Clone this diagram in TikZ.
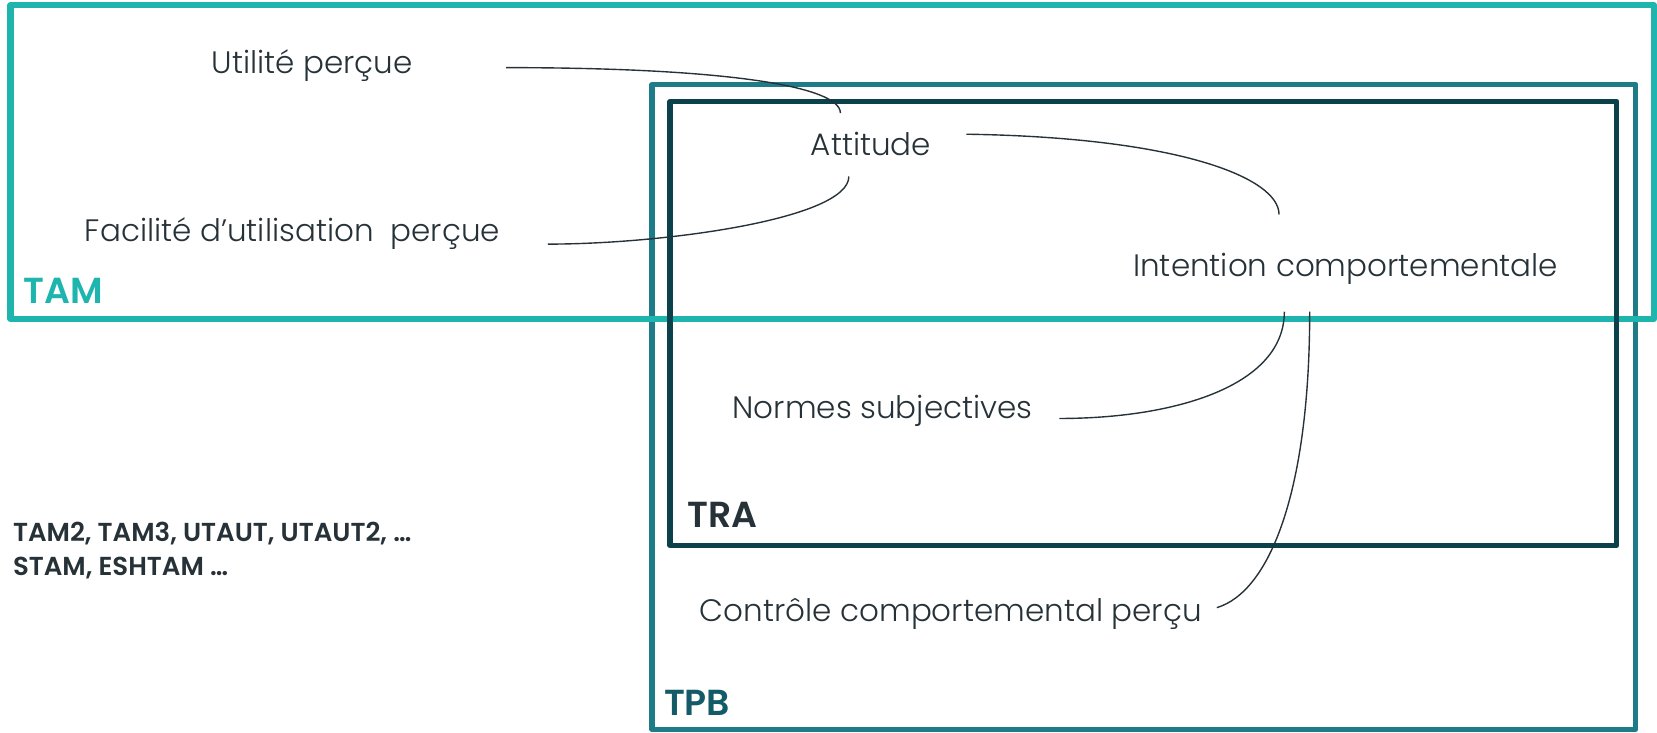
\documentclass[tikz,border=0pt]{standalone}
\usepackage{fontspec}
\usetikzlibrary{calc}
\IfFontExistsTF{Poppins Light}{\newfontfamily\txtfont{Poppins Light}}{\newfontfamily\txtfont{Poppins}}
\IfFontExistsTF{Poppins SemiBold}{\newfontfamily\tagfont{Poppins SemiBold}}{\newfontfamily\tagfont{Poppins}[AutoFakeBold=2]}
\definecolor{tam}{HTML}{1FB5AF}
\definecolor{tpb}{HTML}{1E7B88}
\definecolor{tpbtxt}{HTML}{135B68}
\definecolor{tra}{HTML}{0A414B}
\definecolor{ink}{HTML}{263238}
\tikzset{
  box/.style={line width=2.8pt, line join=round},
  lbl/.style={anchor=west, inner sep=0pt, text=ink, font=\txtfont\fontsize{16.7}{19}\selectfont},
  tag/.style={anchor=west, inner sep=0pt, font=\tagfont\fontsize{19.5}{22}\selectfont},
  link/.style={draw=ink, line width=0.75pt}
}
\begin{document}
\begin{tikzpicture}[x=0.02cm,y=-0.02cm]
\useasboundingbox (0,0) rectangle (1568,693);
% frames
\draw[box, draw=tpb] (617,80) rectangle (1548,690);
\draw[box, draw=tam, line width=3.4pt] (10,5) rectangle (1565,302);
\draw[box, draw=tra] (634,96) rectangle (1530,516);
% model names
\node[tag, text=tam] (tamlbl) at (22,275) {TAM};
\node[tag, text=ink] (tralbl) at (650,487) {TRA};
\node[tag, text=tpbtxt] (tpblbl) at (628,665) {TPB};
\node[tag, text=ink, align=left, font=\tagfont\fontsize{14}{18}\selectfont] (others) at (12,521) {TAM2, TAM3, UTAUT, UTAUT2, …\\STAM, ESHTAM …};
% constructs
\node[lbl] (up) at (200,62) {Utilité perçue};
\node[lbl] (att) at (767,136) {Attitude};
\node[lbl] (fac) at (80,221) {Facilité d’utilisation\ \ perçue};
\node[lbl] (int) at (1072,254) {Intention comportementale};
\node[lbl] (ns) at (693,389) {Normes subjectives};
\node[lbl] (cc) at (662,581) {Contrôle comportemental perçu};
% links
\draw[link] ($(up.east)+(88,2)$) .. controls +(210,0) and +(0,-25) .. ($(att.center)+(-29,-29)$);
\draw[link] ($(att.center)+(-21,31)$) .. controls +(0,40) and +(110,0) .. ($(fac.east)+(45,10)$);
\draw[link] ($(att.east)+(33,-9)$) .. controls +(200,3) and +(0,-35) .. ($(int.center)+(-63,-51)$);
\draw[link] ($(int.center)+(-58,41)$) .. controls +(0,70) and +(110,0) .. ($(ns.east)+(25,7)$);
\draw[link] ($(int.center)+(-34,41)$) .. controls +(0,170) and +(50,-15) .. ($(cc.east)+(14,-6)$);
\end{tikzpicture}
\end{document}
